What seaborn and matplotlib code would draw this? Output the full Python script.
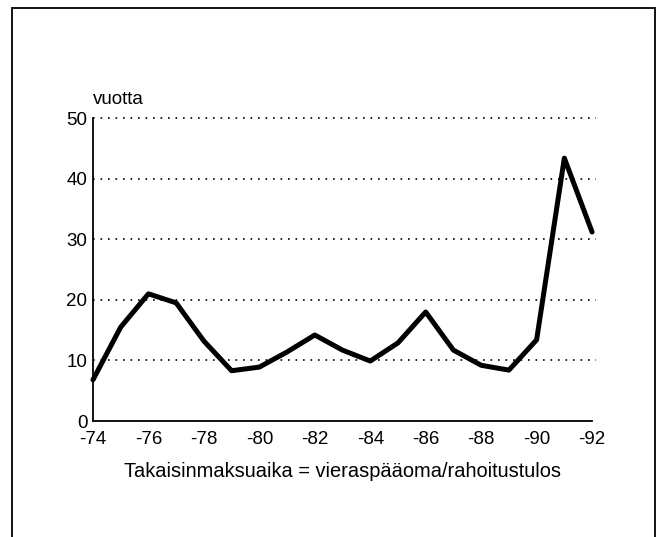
import numpy as np
import pandas as pd
import matplotlib
matplotlib.use("Agg")
import matplotlib.pyplot as plt
import seaborn as sns
from matplotlib.patches import Rectangle

# Data
years = list(range(1974, 1993))
values = [6.8, 15.5, 21.0, 19.5, 13.2, 8.3, 8.9, 11.4, 14.2, 11.7,
          9.9, 12.9, 18.0, 11.7, 9.2, 8.4, 13.4, 43.4, 31.2]
xtick_years = list(range(1974, 1993, 2))
xtick_labels = [f"-{y % 100}" for y in xtick_years]
ytick_values = [0, 10, 20, 30, 40, 50]

df = pd.DataFrame({"year": years, "vuotta": values})

sns.set_style("white")
plt.rcParams["font.family"] = ["Liberation Sans", "DejaVu Sans"]
plt.rcParams["text.color"] = "black"
plt.rcParams["axes.labelcolor"] = "black"

fig = plt.figure(figsize=(6.66, 5.37), dpi=100)
ax = fig.add_axes([0.1396, 0.216, 0.7494, 0.564])

# dotted grid lines
for v in ytick_values[1:]:
    ax.plot([1974, 1992.15], [v, v], color="black", linestyle=(0, (1, 3.5)),
            linewidth=1.2, zorder=1, clip_on=False)

sns.lineplot(data=df, x="year", y="vuotta", color="black", linewidth=3.6,
             ax=ax, zorder=3, clip_on=False)

ax.set_xlim(1974, 1992)
ax.set_ylim(0, 50)
ax.set_xticks(xtick_years)
ax.set_xticklabels(xtick_labels)
ax.set_yticks(ytick_values)
ax.tick_params(axis="both", labelsize=13.5, length=0, colors="black")
ax.tick_params(axis="x", pad=7)
ax.tick_params(axis="y", pad=4)
for s in ["top", "right"]:
    ax.spines[s].set_visible(False)
for s in ["left", "bottom"]:
    ax.spines[s].set_color("black")
    ax.spines[s].set_linewidth(1.3)
ax.set_xlabel("Takaisinmaksuaika = vieraspääoma/rahoitustulos", fontsize=14.4,
              labelpad=10, color="black")
ax.set_ylabel("")
ax.text(0.0, 1.035, "vuotta", transform=ax.transAxes, fontsize=13.5,
        ha="left", va="bottom", color="black")

# frame around the figure
fig.patches.append(Rectangle((12 / 666, -0.05), (655 - 12) / 666, 1 - 8 / 537 + 0.05,
                             transform=fig.transFigure, fill=False,
                             edgecolor="black", linewidth=1.3))

fig.savefig("out.png", dpi=100)
